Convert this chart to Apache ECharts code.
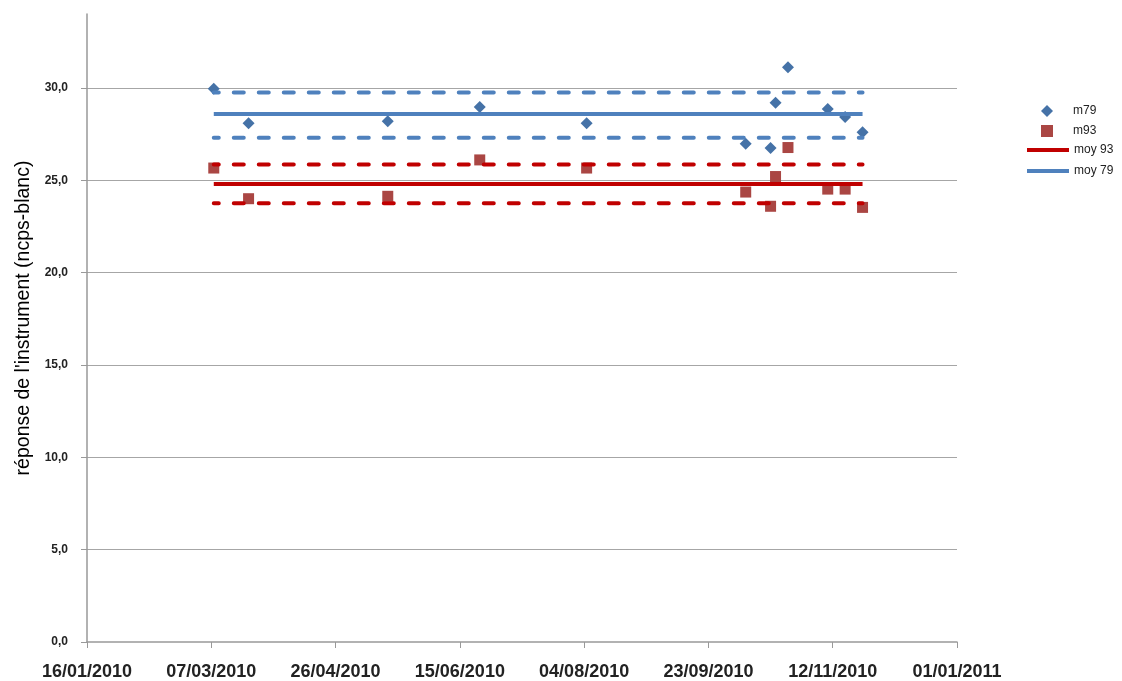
<!DOCTYPE html>
<html>
<head>
<meta charset="utf-8">
<script src="https://cdn.jsdelivr.net/npm/echarts@6/dist/echarts.min.js"></script>
<style>
  html, body { margin: 0; padding: 0; background: #fff; }
  #chart { width: 1122px; height: 681px; }
</style>
</head>
<body>
<div id="chart"></div>
<script>
// dates des mesures
const dates = ['2010-03-08', '2010-03-22', '2010-05-17', '2010-06-23', '2010-08-05', '2010-10-08',
               '2010-10-18', '2010-10-20', '2010-10-25', '2010-11-10', '2010-11-17', '2010-11-24'];
// réponses mesurées
const m79 = [29.95, 28.09, 28.2, 28.97, 28.09, 26.97, 26.74, 29.2, 31.12, 28.85, 28.42, 27.6];
const m93 = [25.66, 24.0, 24.13, 26.1, 25.66, 24.36, 23.59, 25.2, 26.77, 24.52, 24.52, 23.53];
// moyennes et limites (bas, moyenne, haut)
const moy79 = [27.3, 28.58, 29.75];
const moy93 = [23.75, 24.79, 25.85];
// axe des dates : départ et graduations (jours)
const xStart = Date.UTC(2010, 0, 16);
const xTicks = [0, 50, 100, 150, 200, 250, 300, 350];
const yTicks = [0, 5, 10, 15, 20, 25, 30];

const DAY = 86400000;
function toDay(s) {
    const p = s.split('-').map(Number);
    return (Date.UTC(p[0], p[1] - 1, p[2]) - xStart) / DAY;
}
function pad(n) { return n < 10 ? '0' + n : '' + n; }
function fmtDay(v) {
    const d = new Date(xStart + v * DAY);
    return pad(d.getUTCDate()) + '/' + pad(d.getUTCMonth() + 1) + '/' + d.getUTCFullYear();
}

const xs = dates.map(toDay);
const x0 = xs[0], x1 = xs[xs.length - 1];

function flat(name, val, color, dashed) {
    return {
        name: name,
        type: 'line',
        symbol: 'none',
        data: [[x0, val], [x1, val]],
        lineStyle: dashed
            ? { color: color, width: 4, type: [10, 15], dashOffset: 5, cap: 'round' }
            : { color: color, width: 4 },
        itemStyle: { color: color },
        silent: true
    };
}

const chart = echarts.init(document.getElementById('chart'));

const legendText = { fontFamily: 'Liberation Sans', fontSize: 12, color: '#222' };

chart.setOption({
    animation: false,
    grid: { left: 87, right: 165, top: 14, bottom: 38 },
    legend: [
        {
            orient: 'vertical',
            left: 1036,
            top: 100,
            itemWidth: 12,
            itemHeight: 12,
            itemGap: 8,
            data: [{ name: 'm79', icon: 'diamond' }, { name: 'm93', icon: 'rect' }],
            textStyle: Object.assign({ padding: [0, 0, 0, 15] }, legendText)
        },
        {
            orient: 'vertical',
            left: 1022,
            top: 139,
            itemWidth: 42,
            itemHeight: 4,
            itemGap: 9,
            data: [{ name: 'moy 93', icon: 'rect' }, { name: 'moy 79', icon: 'rect' }],
            textStyle: legendText
        }
    ],
    xAxis: {
        type: 'value',
        min: 0,
        max: 350,
        interval: 50,
        axisLine: { lineStyle: { color: '#999', width: 1.5 } },
        axisTick: { show: true, length: 6, lineStyle: { color: '#999' } },
        splitLine: { show: false },
        axisLabel: {
            margin: 21,
            fontFamily: 'Liberation Sans',
            fontWeight: 'bold',
            fontSize: 18,
            color: '#222',
            customValues: xTicks,
            formatter: fmtDay
        }
    },
    yAxis: {
        type: 'value',
        min: 0,
        max: 34,
        interval: 5,
        name: "réponse de l'instrument (ncps-blanc)",
        nameLocation: 'middle',
        nameGap: 53,
        nameTextStyle: { fontFamily: 'Liberation Sans', fontSize: 19.5, color: '#000', padding: [0, 0, 0, 20] },
        axisLine: { show: true, lineStyle: { color: '#999', width: 1.5 } },
        axisTick: { show: true, length: 6, lineStyle: { color: '#999' } },
        splitLine: { show: true, showMinLine: false, showMaxLine: false, lineStyle: { color: '#a6a6a6', width: 1 } },
        axisLabel: {
            margin: 19,
            showMaxLabel: false,
            fontFamily: 'Liberation Sans',
            fontWeight: 'bold',
            fontSize: 12,
            color: '#222',
            formatter: function (v) {
                return yTicks.indexOf(v) >= 0 ? v.toFixed(1).replace('.', ',') : '';
            }
        }
    },
    series: [
        {
            name: 'm79',
            type: 'scatter',
            symbol: 'diamond',
            symbolSize: 12,
            data: xs.map((x, i) => [x, m79[i]]),
            itemStyle: { color: '#4572A7', opacity: 1 }
        },
        {
            name: 'm93',
            type: 'scatter',
            symbol: 'rect',
            symbolSize: 11,
            data: xs.map((x, i) => [x, m93[i]]),
            itemStyle: { color: '#AA4643', opacity: 1 }
        },
        flat('moy 93', moy93[1], '#C00000', false),
        flat('moy 93 bas', moy93[0], '#C00000', true),
        flat('moy 93 haut', moy93[2], '#C00000', true),
        flat('moy 79', moy79[1], '#4F81BD', false),
        flat('moy 79 bas', moy79[0], '#4F81BD', true),
        flat('moy 79 haut', moy79[2], '#4F81BD', true)
    ]
});

window.addEventListener('resize', function () {
    chart.resize();
});
</script>
</body>
</html>
